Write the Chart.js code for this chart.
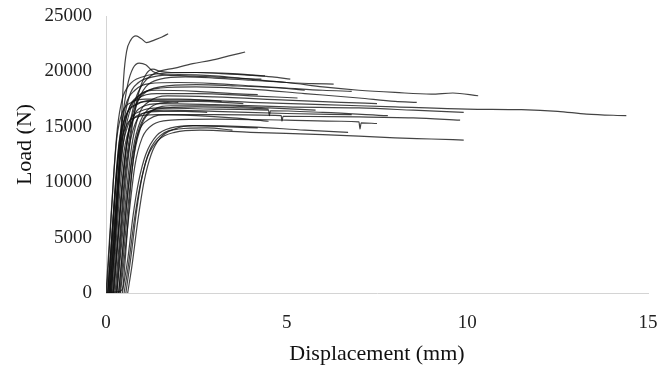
<!DOCTYPE html>
<html>
<head>
<meta charset="utf-8">
<script src="https://cdn.jsdelivr.net/npm/chart.js@4/dist/chart.umd.min.js"></script>
<style>
  html, body { margin: 0; padding: 0; background: #fff; }
  #wrap { width: 669px; height: 372px; }
</style>
</head>
<body>
<div id="wrap"><canvas id="c" width="669" height="372"></canvas></div>
<script>
// Load–displacement records, one array per specimen: [displacement (mm), load (N)]
const s01 = [[0.12,0],[0.24,4000],[0.34,9000],[0.42,15000],[0.49,19500],[0.57,21800],[0.68,22800],[0.83,23200],[0.98,22950],[1.12,22600],[1.35,22850],[1.55,23100],[1.72,23400]];
const s02 = [[0.2,0],[0.32,4500],[0.45,9500],[0.6,14000],[0.8,17300],[1.05,19000],[1.4,19900],[1.9,20300],[2.4,20700],[2.9,21000],[3.4,21400],[3.85,21750]];
const s03 = [[0.1,0],[0.22,5000],[0.33,10500],[0.45,15500],[0.6,18800],[0.75,20300],[0.92,20750],[1.1,20600],[1.3,20000],[1.6,19700],[2.2,19600],[3.0,19500],[3.8,19350],[4.3,19300]];
const s04 = [[0.3,0],[0.42,5000],[0.55,10000],[0.7,14500],[0.9,18000],[1.1,19700],[1.3,20200],[1.5,20000],[1.8,19900],[2.5,19900],[3.2,19800],[4.0,19650],[4.6,19500],[5.1,19300]];
const s05 = [[0.08,0],[0.2,5000],[0.32,10000],[0.45,14500],[0.65,17800],[0.9,19000],[1.3,19500],[2.0,19700],[3.0,19600],[4.0,19300],[5.0,19000],[5.7,18900],[6.3,18850]];
const s06 = [[0.25,0],[0.38,5000],[0.5,10000],[0.65,14000],[0.85,17000],[1.1,18600],[1.5,19300],[2.2,19500],[3.0,19400],[4.0,19200],[5.0,19000],[6.0,18600],[7.0,18300],[8.0,18100],[9.0,17950],[9.6,18050],[10.3,17800]];
const s07 = [[0.05,0],[0.16,5000],[0.27,10000],[0.38,14000],[0.55,17000],[0.8,18300],[1.2,18900],[2.0,19000],[3.0,18900],[4.0,18700],[5.0,18500],[6.0,18300],[6.8,18200]];
const s08 = [[0.15,0],[0.26,5000],[0.37,10000],[0.5,14000],[0.7,16800],[1.0,18000],[1.5,18500],[2.5,18600],[4.0,18400],[5.5,18000],[7.0,17600],[8.0,17300],[8.6,17200]];
const s09 = [[0.1,0],[0.2,4000],[0.3,8500],[0.42,13000],[0.6,16300],[0.9,17800],[1.4,18300],[2.5,18200],[3.5,18000],[4.2,17900]];
const s10 = [[0.3,0],[0.42,4000],[0.55,8500],[0.7,13000],[0.9,16000],[1.2,17300],[1.7,17800],[3.0,17700],[5.0,17400],[6.5,17200],[7.5,17100]];
const s11 = [[0.05,0],[0.15,4500],[0.25,9500],[0.36,13500],[0.55,16000],[0.85,17000],[1.3,17400],[2.5,17400],[4.0,17200],[6.0,17000],[8.0,16800],[10.0,16600],[11.5,16550],[12.5,16400],[13.3,16150],[14.4,16000]];
const s12 = [[0.2,0],[0.3,4000],[0.42,9000],[0.55,13000],[0.75,15800],[1.0,16800],[1.5,17100],[3.0,17000],[5.0,16800],[7.0,16700],[8.5,16500],[9.9,16300]];
const s13 = [[0.12,0],[0.22,4500],[0.32,9000],[0.45,13000],[0.65,15500],[0.95,16400],[1.5,16700],[3.0,16600],[4.5,16500],[4.52,16000],[4.55,16450],[6.0,16300],[7.8,16000]];
const s14 = [[0.35,0],[0.45,3500],[0.57,8000],[0.72,12000],[0.9,14500],[1.2,15700],[1.7,16100],[3.0,16100],[4.85,16000],[4.87,15500],[4.9,15950],[7.0,15900],[8.5,15800],[9.8,15600]];
const s15 = [[0.05,0],[0.14,4000],[0.24,8500],[0.35,12500],[0.55,15000],[0.85,15900],[1.4,16100],[2.5,16000],[3.5,15800],[4.5,15500]];
const s16 = [[0.4,0],[0.52,3500],[0.65,7500],[0.8,11500],[1.0,14000],[1.3,15200],[1.8,15600],[3.0,15700],[5.0,15600],[6.5,15500],[7.0,15450],[7.03,14800],[7.06,15350],[7.5,15300]];
const s17 = [[0.45,0],[0.6,3000],[0.75,7000],[0.9,10000],[1.1,12500],[1.4,14200],[1.8,14900],[2.5,15100],[4.0,15000],[5.5,14700],[6.7,14500]];
const s18 = [[0.5,0],[0.62,2500],[0.78,6500],[0.95,9800],[1.15,12300],[1.45,13800],[1.9,14500],[2.6,14700],[4.0,14500],[6.0,14300],[8.0,14000],[9.0,13900],[9.9,13800]];
const s19 = [[0.55,0],[0.7,3500],[0.85,7500],[1.0,10500],[1.2,12800],[1.5,14200],[2.0,14800],[2.8,14900],[3.5,14700]];
const s20 = [[0.18,0],[0.28,4500],[0.38,9000],[0.5,12800],[0.7,15300],[1.0,16200],[1.5,16400],[2.2,16400],[2.8,16300]];
const s21 = [[0.0,0],[0.1,5000],[0.2,10000],[0.3,14000],[0.45,16300],[0.7,17200],[1.1,17500],[2.0,17500],[3.2,17300]];
const s22 = [[0.22,0],[0.34,5000],[0.46,10000],[0.6,14000],[0.8,16800],[1.05,18000],[1.5,18600],[2.5,18800],[3.5,18700],[4.8,18500],[5.5,18300]];
const s23 = [[0.38,0],[0.5,4000],[0.63,8500],[0.78,12500],[1.0,15300],[1.3,16500],[1.8,16900],[3.0,16900],[4.5,16700],[5.8,16500]];
const s24 = [[0.0,0],[0.3,100],[0.45,300],[0.52,2500],[0.62,7000],[0.72,11000],[0.85,14000],[1.05,15800],[1.4,16600],[2.5,16800],[3.8,16700],[4.5,16600]];
const s25 = [[0.08,0],[0.18,5000],[0.28,10000],[0.38,13500],[0.55,16000],[0.8,17000],[1.2,17300],[1.6,17300],[2.0,17200]];
const s26 = [[0.6,0],[0.72,2500],[0.88,6500],[1.05,10000],[1.25,12500],[1.5,14000],[1.9,14800],[2.4,15100],[3.4,15000],[4.2,14900]];
const s27 = [[0.15,0],[0.25,5000],[0.35,10000],[0.46,14000],[0.62,16500],[0.9,17600],[1.4,18000],[2.5,18000],[4.0,17800],[5.3,17600]];
const s28 = [[0.28,0],[0.4,5000],[0.52,10000],[0.66,13500],[0.85,15600],[1.1,16300],[1.6,16500],[3.0,16400],[5.0,16200],[6.8,16100]];
const s29 = [[0.02,0],[0.12,5500],[0.22,11000],[0.32,15000],[0.45,17500],[0.65,18800],[1.0,19500],[1.5,19800],[2.5,19900],[3.5,19800],[4.4,19600]];
const s30 = [[0.35,0],[0.48,4500],[0.6,9000],[0.75,13000],[0.95,15500],[1.25,16800],[1.7,17200],[2.5,17300],[3.8,17100]];

const specimens = [s01,s02,s03,s04,s05,s06,s07,s08,s09,s10,s11,s12,s13,s14,s15,s16,s17,s18,s19,s20,s21,s22,s23,s24,s25,s26,s27,s28,s29,s30];

// Axis ranges, tick labels and titles
const xTicks = [0, 5, 10, 15];
const yTicks = [0, 5000, 10000, 15000, 20000, 25000];
const xTitle = 'Displacement (mm)';
const yTitle = 'Load (N)';

const serif = "'Liberation Serif', 'Times New Roman', serif";

const datasets = specimens.map(rec => ({
  data: rec.map(([x, y]) => ({ x, y })),
  showLine: true,
  borderColor: 'rgba(15,15,15,0.78)',
  borderWidth: 1.2,
  pointRadius: 0,
  pointHoverRadius: 0,
  cubicInterpolationMode: 'monotone',
  fill: false
}));

// Vertical axis caption, set a little above the middle of the plot
const sideTitle = {
  id: 'sideTitle',
  afterDraw(chart) {
    const { ctx, chartArea } = chart;
    ctx.save();
    ctx.translate(25, (chartArea.top + chartArea.bottom) / 2 - 10);
    ctx.rotate(-Math.PI / 2);
    ctx.font = `22px ${serif}`;
    ctx.fillStyle = '#111';
    ctx.textAlign = 'center';
    ctx.textBaseline = 'middle';
    ctx.fillText(yTitle, 0, 0);
    ctx.restore();
  }
};

new Chart(document.getElementById('c'), {
  type: 'scatter',
  data: { datasets },
  plugins: [sideTitle],
  options: {
    responsive: false,
    animation: false,
    layout: { padding: { top: 16, right: 21, left: 0, bottom: 0 } },
    plugins: { legend: { display: false }, tooltip: { enabled: false } },
    scales: {
      x: {
        type: 'linear',
        min: xTicks[0],
        max: xTicks[xTicks.length - 1],
        afterBuildTicks: s => { s.ticks = xTicks.map(v => ({ value: v })); },
        afterFit: s => { s.height = 79; s.paddingLeft = 0; s.paddingRight = 0; },
        grid: { display: false, drawTicks: false },
        border: { display: true, color: '#d4d4d4', width: 1 },
        ticks: { color: '#222', padding: 19, font: { family: serif, size: 19 }, callback: v => String(v) },
        title: { display: true, text: xTitle, color: '#111', padding: { top: 0, bottom: 5 }, font: { family: serif, size: 22 } }
      },
      y: {
        type: 'linear',
        min: yTicks[0],
        max: yTicks[yTicks.length - 1],
        afterBuildTicks: s => { s.ticks = yTicks.map(v => ({ value: v })); },
        afterFit: s => { s.width = 106; s.paddingTop = 0; s.paddingBottom = 0; },
        grid: { display: false, drawTicks: false },
        border: { display: true, color: '#d4d4d4', width: 1 },
        ticks: { color: '#222', padding: 14, font: { family: serif, size: 19 }, callback: v => String(v) }
      }
    }
  }
});
</script>
</body>
</html>
